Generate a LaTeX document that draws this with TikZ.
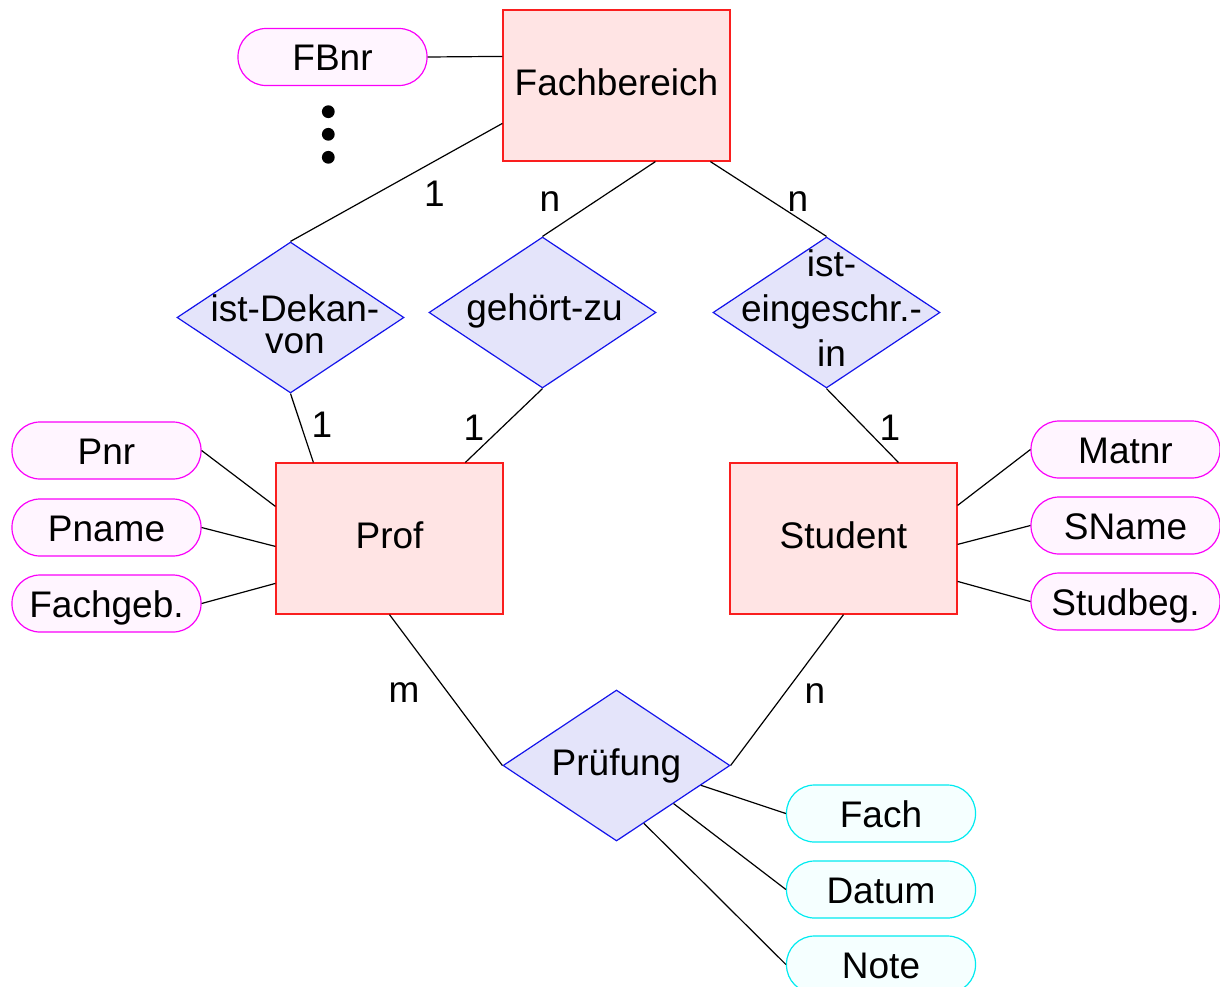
\documentclass[tikz,border=0pt]{standalone}
\usepackage{fontspec}
\setmainfont{Liberation Sans}
\usetikzlibrary{shapes.geometric,calc}
\definecolor{entfill}{RGB}{255,228,228}
\definecolor{entdraw}{RGB}{250,30,30}
\definecolor{relfill}{RGB}{228,228,250}
\definecolor{reldraw}{RGB}{20,20,235}
\definecolor{attfill}{RGB}{255,245,255}
\definecolor{attdraw}{RGB}{250,0,250}
\definecolor{cyfill}{RGB}{245,255,255}
\definecolor{cydraw}{RGB}{0,235,240}
\begin{document}
\begin{tikzpicture}[x=0.5pt,y=-0.5pt,
  every node/.style={font=\fontsize{18.5}{22}\selectfont},
  entity/.style={draw=entdraw,fill=entfill,line width=0.6pt,minimum width=113.5pt,minimum height=75.5pt,inner sep=0pt,text height=13.5pt,text depth=4pt},
  relation/.style={diamond,draw=reldraw,fill=relfill,line width=0.6pt,minimum width=113.5pt,minimum height=75.5pt,inner sep=0pt},
  reltext/.style={align=center,inner sep=0pt},
  attrib/.style={rectangle,rounded corners=14pt,draw=attdraw,fill=attfill,line width=0.6pt,minimum width=94.5pt,minimum height=28.5pt,inner sep=0pt,text height=13.5pt,text depth=0pt},
  cyattrib/.style={attrib,draw=cydraw,fill=cyfill},
  card/.style={anchor=base,inner sep=0pt},
  conn/.style={line width=0.6pt,black},
  dot/.style={circle,fill=black,inner sep=0pt,minimum size=6.4pt}
]
\useasboundingbox (0,0) rectangle (1220,986);

% entities
\node[entity] (fb) at (616.5,85.5) {Fachbereich};
\node[entity] (prof) at (389.5,538.5) {Prof};
\node[entity] (stud) at (843.5,538.5) {Student};

% relationships
\node[relation] (dek) at (290.5,317.5) {};
\node[relation] (geh) at (542.5,312.5) {};
\node[relation] (ein) at (826.5,312.5) {};
\node[relation] (pr) at (616.5,765.5) {};
\node[reltext,font=\fontsize{18.5}{15.8}\selectfont] (dekt) at (295,324) {ist-Dekan-\\von};
\node[reltext,anchor=base] (geht) at (544.5,320) {gehört-zu};
\node[reltext,font=\fontsize{18.5}{22.5}\selectfont] (eint) at (831.5,308.4) {ist-\\eingeschr.-\\in};
\node[reltext,anchor=base] (prt) at (616.5,775) {Prüfung};

% attributes
\node[attrib] (fbnr) at (332.5,57) {FBnr};
\node[dot] (d1) at (328.3,111.7) {};
\node[dot] (d2) at (328.3,134.3) {};
\node[dot] (d3) at (328.3,157.3) {};
\node[attrib] (pnr) at (106.5,450.5) {Pnr};
\node[attrib] (pname) at (106.5,527.5) {Pname};
\node[attrib] (fgeb) at (106.5,603.5) {Fachgeb.};
\node[attrib] (matnr) at (1125.5,449.5) {Matnr};
\node[attrib] (sname) at (1125.5,525.5) {SName};
\node[attrib] (sbeg) at (1125.5,601.5) {Studbeg.};
\node[cyattrib] (fach) at (881,813.5) {Fach};
\node[cyattrib] (datum) at (881,889.5) {Datum};
\node[cyattrib] (note) at (881,964.5) {Note};

% connectors
\draw[conn] (fbnr.east) -- ($(fb.north west)+(0,47)$);
\draw[conn] ($(fb.north west)+(0,114)$) -- (dek.north);
\draw[conn] ($(fb.south west)+(153,0)$) -- (geh.north);
\draw[conn] ($(fb.south west)+(208,0)$) -- (ein.north);
\draw[conn] (dek.south) -- ($(prof.north west)+(38,0)$);
\draw[conn] (geh.south) -- ($(prof.north west)+(190,0)$);
\draw[conn] (ein.south) -- ($(stud.north west)+(169,0)$);
\draw[conn] (prof.south) -- (pr.west);
\draw[conn] (stud.south) -- (pr.east);
\draw[conn] (pnr.east) -- ($(prof.north west)+(0,44)$);
\draw[conn] (pname.east) -- ($(prof.north west)+(0,84)$);
\draw[conn] (fgeb.east) -- ($(prof.north west)+(0,121)$);
\draw[conn] (matnr.west) -- ($(stud.north east)+(0,43)$);
\draw[conn] (sname.west) -- ($(stud.north east)+(0,82)$);
\draw[conn] (sbeg.west) -- ($(stud.north east)+(0,119)$);
\draw[conn] ($(pr.east)!0.26!(pr.south)$) -- (fach.west);
\draw[conn] ($(pr.east)!0.50!(pr.south)$) -- (datum.west);
\draw[conn] ($(pr.east)!0.76!(pr.south)$) -- (note.west);

% cardinalities
\node[card] (c1) at (434.5,206.7) {1};
\node[card] (c2) at (550,211.7) {n};
\node[card] (c3) at (798,211.7) {n};
\node[card] (c4) at (322,437) {1};
\node[card] (c5) at (474,440) {1};
\node[card] (c6) at (890,440) {1};
\node[card] (c7) at (404,702) {m};
\node[card] (c8) at (815,703) {n};
\end{tikzpicture}
\end{document}
